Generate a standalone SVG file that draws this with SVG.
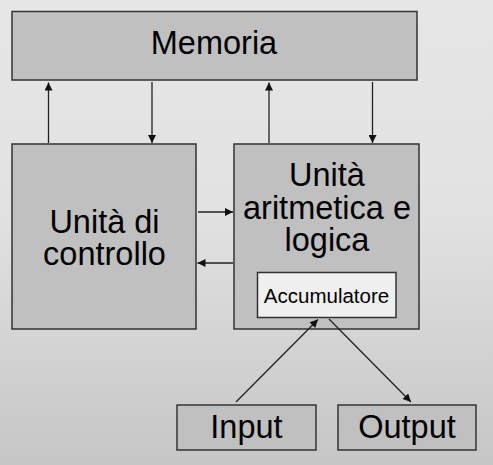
<svg xmlns="http://www.w3.org/2000/svg" width="493" height="465" viewBox="0 0 493 465">
<defs>
<linearGradient id="bg" x1="0" y1="0" x2="0" y2="1">
<stop offset="0" stop-color="#e6e6e6"/>
<stop offset="0.45" stop-color="#e2e2e2"/>
<stop offset="1" stop-color="#c6c6c6"/>
</linearGradient>
<marker id="ah" viewBox="0 0 10 10" refX="10" refY="5" markerWidth="9" markerHeight="8" markerUnits="userSpaceOnUse" orient="auto">
<path d="M0,0 L10,5 L0,10 Z" fill="#111"/>
</marker>
<style>
.box{fill:#c0c0c0;stroke:#333;stroke-width:1.5}
.acc{fill:#f0f0f0;stroke:#333;stroke-width:1.5}
.t{font-family:"Liberation Sans",Arial,sans-serif;font-size:32.5px;fill:#000;text-anchor:middle}
.ts{font-family:"Liberation Sans",Arial,sans-serif;font-size:20.5px;fill:#000;text-anchor:middle}
.c{stroke:#222;stroke-width:1.3;fill:none;marker-end:url(#ah)}
</style>
</defs>
<rect x="0" y="0" width="493" height="465" fill="url(#bg)"/>
<g id="memoria">
<rect class="box" x="12" y="11.5" width="405" height="68.5"/>
<text class="t" x="214" y="54">Memoria</text>
</g>
<g id="controllo">
<rect class="box" x="12" y="144" width="184" height="185"/>
<text class="t" x="104.5" y="232.5">Unità di</text>
<text class="t" x="104.5" y="265">controllo</text>
</g>
<g id="alu">
<rect class="box" x="234" y="144" width="185" height="185"/>
<text class="t" x="327" y="186">Unità</text>
<text class="t" x="327" y="218.5">aritmetica e</text>
<text class="t" x="327" y="251">logica</text>
</g>
<g id="accumulatore">
<rect class="acc" x="257.5" y="272.5" width="138.5" height="45"/>
<text class="ts" x="326.5" y="302.5">Accumulatore</text>
</g>
<g id="input">
<rect class="box" x="177" y="405" width="139" height="45"/>
<text class="t" x="246.5" y="438">Input</text>
</g>
<g id="output">
<rect class="box" x="338" y="405" width="138" height="45"/>
<text class="t" x="407" y="438">Output</text>
</g>
<g id="connectors">
<line class="c" x1="48.5" y1="143" x2="48.5" y2="82.5"/>
<line class="c" x1="152" y1="82" x2="152" y2="143"/>
<line class="c" x1="269" y1="143" x2="269" y2="82.5"/>
<line class="c" x1="372.5" y1="82" x2="372.5" y2="143"/>
<line class="c" x1="198" y1="212" x2="233" y2="212"/>
<line class="c" x1="233" y1="263" x2="197.5" y2="263"/>
<line class="c" x1="236" y1="402" x2="318" y2="319.5"/>
<line class="c" x1="329" y1="319" x2="411" y2="402"/>
</g>
</svg>
